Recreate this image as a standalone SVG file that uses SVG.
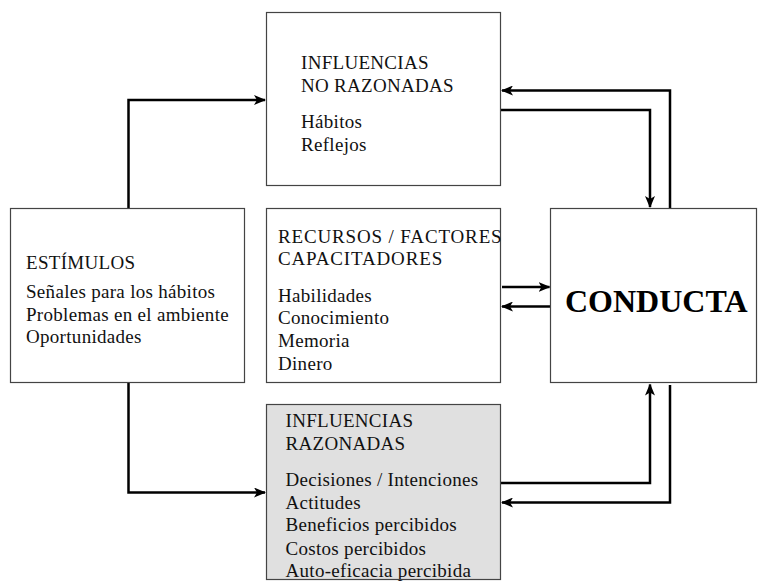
<svg xmlns="http://www.w3.org/2000/svg" width="758" height="581" viewBox="0 0 758 581">
<style>
.box{fill:#fff;stroke:#444;stroke-width:1.2}
.gray{fill:#e0e0e0;stroke:#444;stroke-width:1.2}
.t{font-family:"Liberation Serif","Times New Roman",serif;font-size:19px;fill:#111;letter-spacing:0.3px}
.w{letter-spacing:0.85px}
.c{font-family:"Liberation Serif","Times New Roman",serif;font-size:32px;font-weight:bold;fill:#000}
.ln{fill:none;stroke:#000;stroke-width:2.5}
</style>
<defs>
<marker id="ah" viewBox="0 0 12 10" refX="11" refY="5" markerWidth="12" markerHeight="10" markerUnits="userSpaceOnUse" orient="auto">
<path d="M0,0 L12,5 L0,10 L3,5 Z" fill="#000"/>
</marker>
</defs>
<g id="connectors">
<path class="ln" d="M128.5,208 V100 H265" marker-end="url(#ah)"/>
<path class="ln" d="M128.5,383 V492.5 H265" marker-end="url(#ah)"/>
<path class="ln" d="M670,208 V90.5 H502" marker-end="url(#ah)"/>
<path class="ln" d="M501,110 H650 V207" marker-end="url(#ah)"/>
<path class="ln" d="M502,287 H549.5" marker-end="url(#ah)"/>
<path class="ln" d="M550,306.5 H502" marker-end="url(#ah)"/>
<path class="ln" d="M501,483 H650 V384.5" marker-end="url(#ah)"/>
<path class="ln" d="M670,385 V502.5 H502" marker-end="url(#ah)"/>
</g>
<g id="no-razonadas">
<rect class="box" x="266.5" y="12.5" width="234" height="173"/>
<text class="t" x="301" y="69">INFLUENCIAS</text>
<text class="t" x="301" y="92">NO RAZONADAS</text>
<text class="t" x="301" y="128">Hábitos</text>
<text class="t" x="301" y="151">Reflejos</text>
</g>
<g id="estimulos">
<rect class="box" x="10.5" y="208.5" width="234" height="174"/>
<text class="t" x="26" y="269">ESTÍMULOS</text>
<text class="t" x="26" y="298">Señales para los hábitos</text>
<text class="t" x="26" y="320.5">Problemas en el ambiente</text>
<text class="t" x="26" y="343">Oportunidades</text>
</g>
<g id="recursos">
<rect class="box" x="266.5" y="208.5" width="234" height="174"/>
<text class="t w" x="278" y="242.5">RECURSOS / FACTORES</text>
<text class="t w" x="278" y="265">CAPACITADORES</text>
<text class="t" x="278" y="301.5">Habilidades</text>
<text class="t" x="278" y="324">Conocimiento</text>
<text class="t" x="278" y="346.5">Memoria</text>
<text class="t" x="278" y="369.5">Dinero</text>
</g>
<g id="conducta">
<rect class="box" x="550.5" y="208.5" width="206" height="174"/>
<text class="c" x="565" y="311.5">CONDUCTA</text>
</g>
<g id="razonadas">
<rect class="gray" x="266.5" y="404.5" width="234" height="175"/>
<text class="t" x="285.5" y="426.5">INFLUENCIAS</text>
<text class="t" x="285.5" y="450">RAZONADAS</text>
<text class="t" x="285.5" y="486">Decisiones / Intenciones</text>
<text class="t" x="285.5" y="508.5">Actitudes</text>
<text class="t" x="285.5" y="531">Beneficios percibidos</text>
<text class="t" x="285.5" y="554.5">Costos percibidos</text>
<text class="t" x="285.5" y="577">Auto-eficacia percibida</text>
<line x1="266.5" y1="579.5" x2="500.5" y2="579.5" stroke="#444" stroke-width="1.2"/>
</g>
</svg>
